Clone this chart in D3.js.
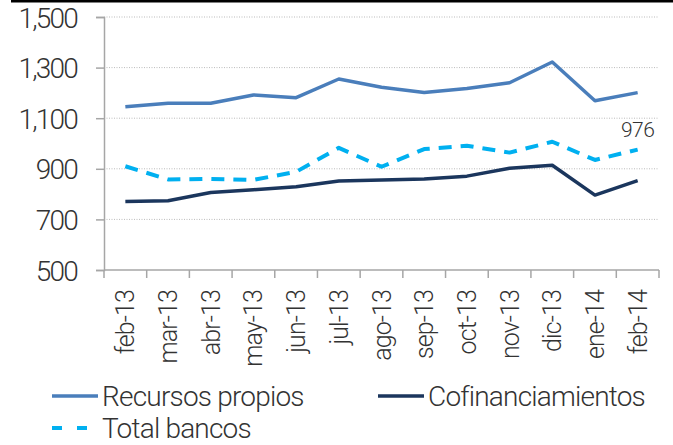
<!DOCTYPE html>
<html>
<head>
<meta charset="utf-8">
<script src="https://cdn.jsdelivr.net/npm/d3@7"></script>
<style>
  body { margin: 0; background: #fff; }
  svg text { font-family: Roboto, "Liberation Sans", sans-serif; font-weight: 300; fill: #333; }
</style>
</head>
<body>
<div id="chart"></div>
<script>
// datos (miles de millones)
const months = ['feb-13','mar-13','abr-13','may-13','jun-13','jul-13','ago-13','sep-13','oct-13','nov-13','dic-13','ene-14','feb-14']
const recursosPropios = [1145, 1159, 1159, 1192, 1181, 1255, 1222, 1202, 1217, 1240, 1322, 1169, 1201]
const cofinanciamientos = [771, 774, 806, 817, 829, 852, 856, 860, 871, 902, 914, 796, 853]
const totalBancos = [910, 858, 860, 856, 888, 983, 908, 978, 991, 964, 1007, 935, 976]
const yTicks = [500, 700, 900, 1100, 1300, 1500]

const width = 673, height = 445
const margin = { top: 17, right: 14, bottom: 175, left: 104 }

const svg = d3.select('#chart').append('svg')
    .attr('width', width)
    .attr('height', height)

// barra negra superior
svg.append('rect')
    .attr('x', 11).attr('y', 0)
    .attr('width', width - 11).attr('height', 2.5)
    .attr('fill', '#000')

const x = d3.scaleBand()
    .domain(months)
    .range([margin.left, width - margin.right])

const y = d3.scaleLinear()
    .domain([500, 1500])
    .range([height - margin.bottom, margin.top])

// lineas de cuadricula
svg.append('g')
    .selectAll('line')
    .data(yTicks.slice(1))
    .enter()
    .append('line')
    .attr('x1', margin.left)
    .attr('x2', width - margin.right)
    .attr('y1', d => y(d))
    .attr('y2', d => y(d))
    .attr('stroke', '#bbb')
    .attr('stroke-width', 1)
    .attr('stroke-dasharray', '1,1.5')

// eje y
const yAxis = svg.append('g')
    .attr('transform', 'translate(' + margin.left + ',0)')
    .call(d3.axisLeft(y).tickValues(yTicks).tickSize(8).tickPadding(19).tickFormat(d3.format(',')))
yAxis.select('.domain').attr('stroke', '#a6a6a6').attr('stroke-width', 1.5)
yAxis.selectAll('.tick line').attr('stroke', '#a6a6a6').attr('stroke-width', 1.5)
yAxis.selectAll('text')
    .style('font-size', '28px')
    .style('letter-spacing', '-1.8px')
    .attr('dy', '0.36em')

// eje x: ticks en los limites de categoria
const xAxisG = svg.append('g')
    .attr('transform', 'translate(0,' + (height - margin.bottom) + ')')
xAxisG.append('line')
    .attr('x1', margin.left).attr('x2', width - margin.right)
    .attr('stroke', '#a6a6a6').attr('stroke-width', 1.5)
const bounds = months.map(m => x(m)).concat([x(months[months.length - 1]) + x.bandwidth()])
xAxisG.selectAll('.xtick')
    .data(bounds)
    .enter()
    .append('line')
    .attr('class', 'xtick')
    .attr('x1', d => d).attr('x2', d => d)
    .attr('y1', 0).attr('y2', 8)
    .attr('stroke', '#a6a6a6').attr('stroke-width', 1.5)
xAxisG.selectAll('.xlabel')
    .data(months)
    .enter()
    .append('text')
    .attr('class', 'xlabel')
    .attr('transform', d => 'translate(' + (x(d) + x.bandwidth() / 2 + 9) + ',20) rotate(-90)')
    .attr('text-anchor', 'end')
    .style('font-size', '25px')
    .style('letter-spacing', '-0.9px')
    .text(d => d)

// series
const cx = d => x(d) + x.bandwidth() / 2
const series = [
    { name: 'Recursos propios', values: recursosPropios, color: '#4a7ebb', dash: null, w: 3.5 },
    { name: 'Cofinanciamientos', values: cofinanciamientos, color: '#1b365d', dash: null, w: 3.5 },
    { name: 'Total bancos', values: totalBancos, color: '#00b0f0', dash: '13,9', w: 4 }
]
const line = d3.line()
    .x((d, i) => cx(months[i]))
    .y(d => y(d))

svg.append('g')
    .selectAll('path')
    .data(series)
    .enter()
    .append('path')
    .attr('d', d => line(d.values))
    .attr('fill', 'none')
    .attr('stroke', d => d.color)
    .attr('stroke-width', d => d.w)
    .attr('stroke-dasharray', d => d.dash)
    .attr('stroke-linejoin', 'round')

// etiqueta del ultimo valor
const last = totalBancos.length - 1
svg.append('text')
    .attr('x', cx(months[last]))
    .attr('y', y(totalBancos[last]) - 13)
    .attr('text-anchor', 'middle')
    .style('font-size', '21px')
    .style('letter-spacing', '-0.5px')
    .text(totalBancos[last])

// leyenda
const legendPos = [
    { x: 52, y: 396 },
    { x: 378, y: 396 },
    { x: 52, y: 428 }
]
const legend = svg.append('g')
    .selectAll('g')
    .data(series)
    .enter()
    .append('g')
    .attr('transform', (d, i) => 'translate(' + legendPos[i].x + ',' + legendPos[i].y + ')')
legend.append('line')
    .attr('x1', 0).attr('x2', 46)
    .attr('stroke', d => d.color)
    .attr('stroke-width', d => d.w)
    .attr('stroke-dasharray', d => d.dash ? '10,15' : null)
legend.append('text')
    .attr('x', 50)
    .attr('dy', '0.36em')
    .style('font-size', '28px')
    .style('letter-spacing', '-0.8px')
    .text(d => d.name)
</script>
</body>
</html>
